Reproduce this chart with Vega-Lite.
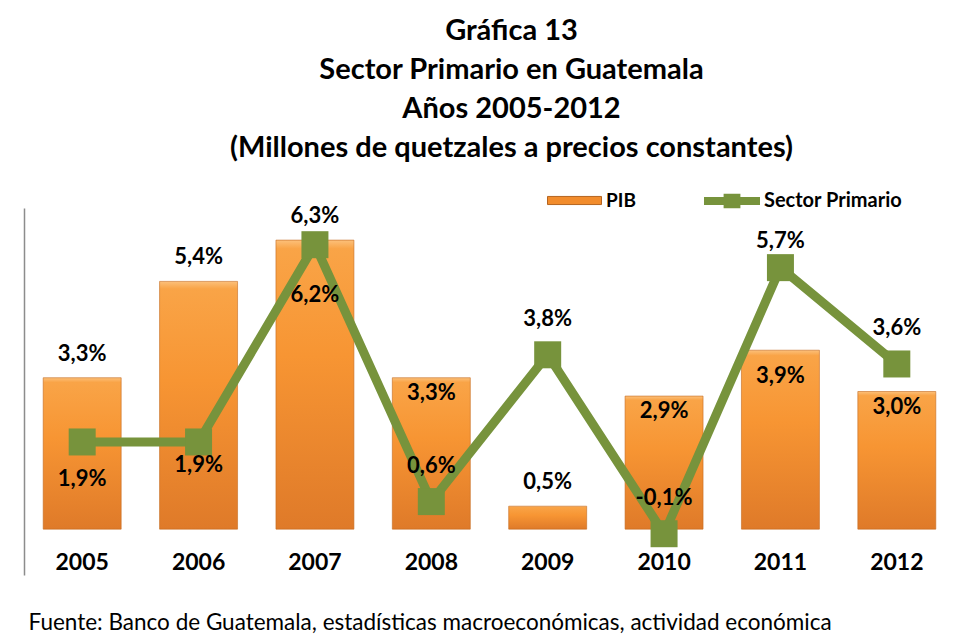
{
  "$schema": "https://vega.github.io/schema/vega-lite/v6.json",
  "width": 931,
  "height": 367,
  "autosize": {"type": "none"},
  "padding": {"left": 24, "top": 208, "right": 1, "bottom": 68},
  "background": "white",
  "config": {
    "view": {"stroke": null},
    "font": "Lato",
    "locale": {"number": {"decimal": ",", "thousands": ".", "grouping": [3], "currency": ["", ""], "minus": "-"}}
  },
  "title": {
    "text": ["Gráfica 13", "Sector Primario en Guatemala", "Años 2005-2012", "(Millones de quetzales a precios constantes)"],
    "anchor": "middle",
    "dx": 22,
    "offset": 10,
    "font": "Lato",
    "fontSize": 29,
    "fontWeight": "bold",
    "lineHeight": 39,
    "color": "black"
  },
  "data": {
    "values": [
      {"year": "2005", "pib": 0.033, "sector": 0.019},
      {"year": "2006", "pib": 0.054, "sector": 0.019},
      {"year": "2007", "pib": 0.063, "sector": 0.062},
      {"year": "2008", "pib": 0.033, "sector": 0.006},
      {"year": "2009", "pib": 0.005, "sector": 0.038},
      {"year": "2010", "pib": 0.029, "sector": -0.001},
      {"year": "2011", "pib": 0.039, "sector": 0.057},
      {"year": "2012", "pib": 0.030, "sector": 0.036}
    ]
  },
  "encoding": {
    "x": {
      "field": "year",
      "type": "nominal",
      "scale": {"paddingInner": 0.33, "paddingOuter": 0.165},
      "axis": {
        "title": "Fuente: Banco de Guatemala, estadísticas macroeconómicas, actividad económica",
        "titleFont": "Lato",
        "titleFontSize": 22.5,
        "titleFontWeight": "normal",
        "titleColor": "black",
        "titleAnchor": "start",
        "titleAlign": "left",
        "titleX": 4,
        "titleY": 47,
        "titleBaseline": "middle",
        "labelAngle": 0,
        "labelFont": "Lato",
        "labelFontSize": 23,
        "labelFontWeight": "bold",
        "labelColor": "black",
        "labelBaseline": "middle",
        "labelPadding": -13,
        "ticks": false,
        "tickSize": 0,
        "domain": false,
        "grid": false
      }
    }
  },
  "layer": [
    {
      "mark": {"type": "rule", "color": "#A6A6A6", "strokeWidth": 1.5},
      "encoding": {"y": {"datum": 0, "type": "quantitative", "scale": {"domain": [-0.01, 0.07], "nice": false, "zero": false}, "axis": {"title": null, "labels": false, "ticks": false, "grid": false, "domain": true, "domainColor": "#8C8C8C", "domainWidth": 1.5}}}
    },
    {
      "mark": {
        "type": "bar",
        "stroke": "#C56A1E",
        "strokeWidth": 0.6,
        "fill": {"gradient": "linear", "x1": 0, "y1": 0, "x2": 0, "y2": 1,
          "stops": [
            {"offset": 0, "color": "#FCC07A"},
            {"offset": 0.03, "color": "#F9A447"},
            {"offset": 0.4, "color": "#F79533"},
            {"offset": 1, "color": "#DF7A29"}
          ]}
      },
      "encoding": {
        "y": {"field": "pib", "type": "quantitative"},
        "color": {
          "datum": "PIB",
          "scale": {"domain": ["PIB"], "range": ["#F28C2C"]},
          "legend": {
            "orient": "none",
            "legendX": 523,
            "legendY": -35,
            "title": null,
            "symbolType": "M-1,-0.15L1,-0.15L1,0.15L-1,0.15Z",
            "symbolSize": 2916,
            "symbolStrokeColor": "#B5641F",
            "symbolStrokeWidth": 1,
            "labelFont": "Lato",
            "labelFontSize": 19,
            "labelFontWeight": "bold",
            "labelColor": "black",
            "labelOffset": 4
          }
        }
      }
    },
    {
      "mark": {"type": "line", "strokeWidth": 9},
      "encoding": {
        "y": {"field": "sector", "type": "quantitative"},
        "stroke": {
          "datum": "Sector Primario",
          "scale": {"domain": ["Sector Primario"], "range": ["#77933C"]},
          "legend": {
            "orient": "none",
            "legendX": 680,
            "legendY": -35,
            "title": null,
            "symbolType": "M-1,-0.14L-0.3,-0.14L-0.3,-0.26L0.3,-0.26L0.3,-0.14L1,-0.14L1,0.14L0.3,0.14L0.3,0.26L-0.3,0.26L-0.3,0.14L-1,0.14Z",
            "symbolSize": 3136,
            "symbolStrokeWidth": 0,
            "labelFont": "Lato",
            "labelFontSize": 20,
            "labelFontWeight": "bold",
            "labelColor": "black",
            "labelOffset": 4,
            "encode": {"symbols": {"update": {"fill": {"value": "#77933C"}, "strokeWidth": {"value": 0}}}}
          }
        }
      }
    },
    {
      "mark": {"type": "point", "shape": "square", "filled": true, "size": 729, "color": "#77933C", "opacity": 1},
      "encoding": {"y": {"field": "sector", "type": "quantitative"}}
    },
    {
      "transform": [{"filter": {"field": "year", "oneOf": ["2005", "2006", "2007", "2009"]}}],
      "mark": {"type": "text", "font": "Lato", "fontSize": 22, "fontWeight": "bold", "color": "black", "baseline": "middle", "dy": -24},
      "encoding": {"y": {"field": "pib", "type": "quantitative"}, "text": {"field": "pib", "type": "quantitative", "format": ".1%"}}
    },
    {
      "transform": [{"filter": {"field": "year", "oneOf": ["2008", "2010", "2012"]}}],
      "mark": {"type": "text", "font": "Lato", "fontSize": 22, "fontWeight": "bold", "color": "black", "baseline": "middle", "dy": 15},
      "encoding": {"y": {"field": "pib", "type": "quantitative"}, "text": {"field": "pib", "type": "quantitative", "format": ".1%"}}
    },
    {
      "transform": [{"filter": {"field": "year", "oneOf": ["2011"]}}],
      "mark": {"type": "text", "font": "Lato", "fontSize": 22, "fontWeight": "bold", "color": "black", "baseline": "middle", "dy": 26},
      "encoding": {"y": {"field": "pib", "type": "quantitative"}, "text": {"field": "pib", "type": "quantitative", "format": ".1%"}}
    },
    {
      "transform": [{"filter": {"field": "year", "oneOf": ["2005"]}}],
      "mark": {"type": "text", "font": "Lato", "fontSize": 22, "fontWeight": "bold", "color": "black", "baseline": "middle", "dy": 37},
      "encoding": {"y": {"field": "sector", "type": "quantitative"}, "text": {"field": "sector", "type": "quantitative", "format": ".1%"}}
    },
    {
      "transform": [{"filter": {"field": "year", "oneOf": ["2006"]}}],
      "mark": {"type": "text", "font": "Lato", "fontSize": 22, "fontWeight": "bold", "color": "black", "baseline": "middle", "dy": 23},
      "encoding": {"y": {"field": "sector", "type": "quantitative"}, "text": {"field": "sector", "type": "quantitative", "format": ".1%"}}
    },
    {
      "transform": [{"filter": {"field": "year", "oneOf": ["2007"]}}],
      "mark": {"type": "text", "font": "Lato", "fontSize": 22, "fontWeight": "bold", "color": "black", "baseline": "middle", "dy": 50},
      "encoding": {"y": {"field": "sector", "type": "quantitative"}, "text": {"field": "sector", "type": "quantitative", "format": ".1%"}}
    },
    {
      "transform": [{"filter": {"field": "year", "oneOf": ["2008", "2009", "2010", "2012"]}}],
      "mark": {"type": "text", "font": "Lato", "fontSize": 22, "fontWeight": "bold", "color": "black", "baseline": "middle", "dy": -36},
      "encoding": {"y": {"field": "sector", "type": "quantitative"}, "text": {"field": "sector", "type": "quantitative", "format": ".1%"}}
    },
    {
      "transform": [{"filter": {"field": "year", "oneOf": ["2011"]}}],
      "mark": {"type": "text", "font": "Lato", "fontSize": 22, "fontWeight": "bold", "color": "black", "baseline": "middle", "dy": -27},
      "encoding": {"y": {"field": "sector", "type": "quantitative"}, "text": {"field": "sector", "type": "quantitative", "format": ".1%"}}
    }
  ]
}
